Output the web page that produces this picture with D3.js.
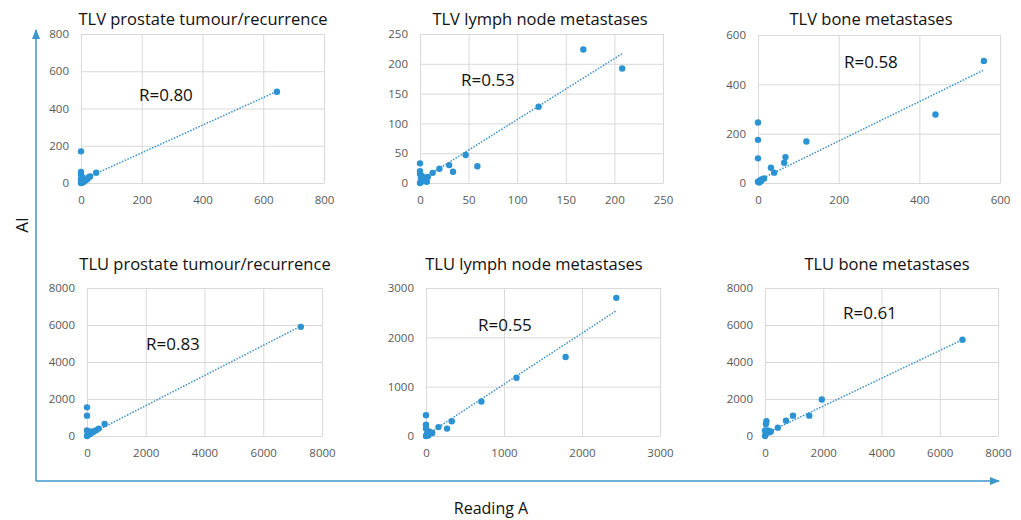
<!DOCTYPE html>
<html>
<head>
<meta charset="utf-8">
<script src="https://cdn.jsdelivr.net/npm/d3@7"></script>
<style>
  body { margin: 0; background: #fff; }
  text { font-family: "Open Sans", "Noto Sans", sans-serif; }
</style>
</head>
<body>
<script>
// panel titles and correlation labels
const titles = [
  "TLV prostate tumour/recurrence", "TLV lymph node metastases", "TLV bone metastases",
  "TLU prostate tumour/recurrence", "TLU lymph node metastases", "TLU bone metastases"
];
const rLabels = ["R=0.80", "R=0.53", "R=0.58", "R=0.83", "R=0.55", "R=0.61"];

// axis maxima and tick steps
const axisMax = [800, 250, 600, 8000, 3000, 8000];
const tickStep = [200, 50, 200, 2000, 1000, 2000];

// Reading A (x) and AI (y) values
const tlvProstateX = [645, 0, 0, 0, 0, 2, 5, 8, 10, 15, 20, 25, 30, 50, 0, 3];
const tlvProstateY = [490, 170, 60, 45, 20, 10, 30, 5, 10, 15, 20, 30, 35, 55, 0, 2];

const tlvLymphX = [168, 208, 122, 47, 59, 30, 34, 20, 13, 8, 0, 0, 0, 2, 5, 7, 3, 0, 1, 4];
const tlvLymphY = [224, 192, 128, 47, 28, 30, 19, 24, 17, 10, 33, 20, 15, 12, 5, 2, 3, 0, 8, 6];

const tlvBoneX = [560, 440, 120, 68, 65, 32, 40, 0, 0, 0, 10, 5, 0, 3, 15, 8];
const tlvBoneY = [495, 278, 168, 105, 82, 62, 42, 245, 175, 100, 15, 10, 5, 2, 18, 8];

const tluProstateX = [7280, 600, 400, 300, 200, 100, 0, 0, 0, 50, 0, 20, 150];
const tluProstateY = [5900, 650, 400, 300, 200, 100, 1550, 1100, 300, 150, 0, 50, 250];

const tluLymphX = [2440, 1790, 1160, 710, 330, 270, 160, 0, 0, 0, 20, 50, 80, 0, 10, 30];
const tluLymphY = [2800, 1600, 1180, 700, 300, 150, 180, 420, 230, 150, 100, 80, 60, 0, 30, 10];

const tluBoneX = [6780, 1950, 1520, 960, 720, 440, 200, 100, 50, 30, 0, 0, 150, 20];
const tluBoneY = [5200, 1970, 1100, 1100, 830, 450, 250, 300, 800, 650, 300, 0, 200, 100];

// dotted trend line end points [x0, y0, x1, y1]
const trendLines = [
  [0, 14, 645, 492],
  [0, 4, 208, 217],
  [0, 10, 560, 458],
  [0, 14, 7280, 5940],
  [0, 15, 2440, 2540],
  [0, 117, 6780, 5205]
];

const seriesX = [tlvProstateX, tlvLymphX, tlvBoneX, tluProstateX, tluLymphX, tluBoneX];
const seriesY = [tlvProstateY, tlvLymphY, tlvBoneY, tluProstateY, tluLymphY, tluBoneY];

// layout of each plot area: left, right, top, bottom, title x/y, R label x/y
const layout = [
  { l: 81, r: 324, t: 34, b: 183, tx: 203, ty: 25, rx: 139, ry: 101 },
  { l: 420, r: 663, t: 34, b: 183, tx: 540, ty: 25, rx: 461, ry: 86 },
  { l: 758, r: 1000, t: 35, b: 183, tx: 871, ty: 25, rx: 844, ry: 68 },
  { l: 87, r: 322, t: 288, b: 436, tx: 205, ty: 270, rx: 146, ry: 350 },
  { l: 426, r: 660, t: 288, b: 436, tx: 534, ty: 270, rx: 478, ry: 331 },
  { l: 765, r: 998, t: 288, b: 436, tx: 887, ty: 270, rx: 843, ry: 319 }
];

const W = 1021, H = 520;
const blue = "#2b93d3";

const svg = d3.select("body").append("svg")
  .attr("width", W)
  .attr("height", H);

const defs = svg.append("defs");
defs.append("marker")
  .attr("id", "arrow")
  .attr("viewBox", "0 0 10 10")
  .attr("refX", 9).attr("refY", 5)
  .attr("markerWidth", 7).attr("markerHeight", 7)
  .attr("orient", "auto")
  .append("path")
  .attr("d", "M0,1 L10,5 L0,9 Z")
  .attr("fill", "#3d96cc");

// big outer axes
svg.append("path")
  .attr("d", "M36,481 L36,30")
  .attr("stroke", "#3d96cc").attr("stroke-width", 1.5).attr("fill", "none")
  .attr("marker-end", "url(#arrow)");
svg.append("path")
  .attr("d", "M36,481 L999,481")
  .attr("stroke", "#3d96cc").attr("stroke-width", 1.5).attr("fill", "none")
  .attr("marker-end", "url(#arrow)");

svg.append("text")
  .attr("transform", "translate(28,225) rotate(-90)")
  .attr("text-anchor", "middle")
  .attr("font-size", 17)
  .attr("fill", "#111")
  .text("AI");

svg.append("text")
  .attr("x", 491).attr("y", 514)
  .attr("text-anchor", "middle")
  .attr("font-size", 16)
  .attr("fill", "#111")
  .text("Reading A");

layout.forEach((p, i) => {
  const ticks = d3.range(0, axisMax[i] + 1, tickStep[i]);
  const x = d3.scaleLinear().domain([0, axisMax[i]]).range([p.l, p.r]);
  const y = d3.scaleLinear().domain([0, axisMax[i]]).range([p.b, p.t]);
  const g = svg.append("g");

  // grid
  g.append("g")
    .attr("transform", `translate(0,${p.b})`)
    .call(d3.axisBottom(x).tickValues(ticks).tickSize(-(p.b - p.t)).tickFormat(""))
    .call(a => a.select(".domain").remove())
    .call(a => a.selectAll("line").attr("stroke", "#d9d9d9"));
  g.append("g")
    .attr("transform", `translate(${p.l},0)`)
    .call(d3.axisLeft(y).tickValues(ticks).tickSize(-(p.r - p.l)).tickFormat(""))
    .call(a => a.select(".domain").remove())
    .call(a => a.selectAll("line").attr("stroke", "#d9d9d9"));

  // tick labels
  g.append("g")
    .attr("transform", `translate(0,${p.b})`)
    .call(d3.axisBottom(x).tickValues(ticks).tickSize(0).tickPadding(13).tickFormat(d3.format("d")))
    .call(a => a.select(".domain").attr("stroke", "#d9d9d9"))
    .call(a => a.selectAll("text").attr("fill", "#595959").attr("font-size", 11.5)
      .style("font-family", "'Open Sans', sans-serif"));
  g.append("g")
    .attr("transform", `translate(${p.l},0)`)
    .call(d3.axisLeft(y).tickValues(ticks).tickSize(0).tickPadding(12).tickFormat(d3.format("d")))
    .call(a => a.select(".domain").remove())
    .call(a => a.selectAll("text").attr("fill", "#595959").attr("font-size", 11.5)
      .style("font-family", "'Open Sans', sans-serif"));

  // trend line
  const t = trendLines[i];
  g.append("line")
    .attr("x1", x(t[0])).attr("y1", y(t[1]))
    .attr("x2", x(t[2])).attr("y2", y(t[3]))
    .attr("stroke", "#3a8fc6")
    .attr("stroke-width", 1.5)
    .attr("stroke-dasharray", "1.5,1.5");

  // points
  g.selectAll("circle")
    .data(seriesX[i].map((v, k) => [v, seriesY[i][k]]))
    .join("circle")
    .attr("cx", d => x(d[0]))
    .attr("cy", d => y(d[1]))
    .attr("r", 3.2)
    .attr("fill", blue);

  // title and R label
  svg.append("text")
    .attr("x", p.tx).attr("y", p.ty)
    .attr("text-anchor", "middle")
    .attr("font-size", 16.5)
    .attr("fill", "#111")
    .text(titles[i]);
  svg.append("text")
    .attr("x", p.rx).attr("y", p.ry)
    .attr("font-size", 17)
    .attr("fill", "#111")
    .text(rLabels[i]);
});
</script>
</body>
</html>
